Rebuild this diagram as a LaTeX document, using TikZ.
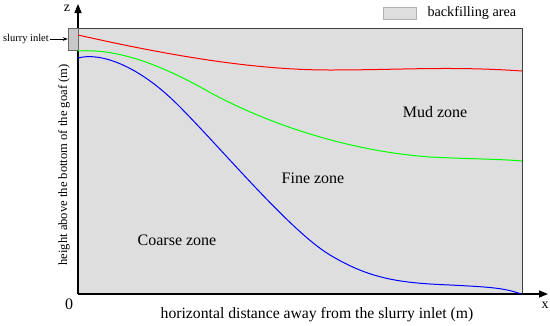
\documentclass[tikz,border=0pt]{standalone}
\usepackage{fontspec}
\setmainfont{Liberation Serif}
\usetikzlibrary{arrows.meta}
\definecolor{fillgray}{RGB}{222,222,222}
\definecolor{inletgray}{RGB}{200,200,200}
\tikzset{
	axis/.style={line width=1.4pt, -{Triangle[length=9pt, width=7pt]}},
	zone/.style={font=\fontsize{16}{18}\selectfont},
	curve/.style={line width=1pt}
}

\begin{document}
\begin{tikzpicture}[x=1pt, y=-1pt]
	\useasboundingbox (0, 0) rectangle (550, 325);
	\coordinate (O) at (78, 294);
	\coordinate (Z) at (78, 4);
	\coordinate (X) at (548, 294);
	\draw[fill=fillgray, draw=black!75, line width=0.8pt] (78, 28) rectangle (522, 294);
	\draw[axis] (O) -- (Z);
	\draw[axis] (O) -- (X);
	\node[font=\fontsize{14}{16}\selectfont, inner sep=0pt] (zname) at (67, 8) {z};
	\node[font=\fontsize{14}{16}\selectfont, inner sep=0pt] (xname) at (545, 305) {x};
	\node[zone] (zero) at (69, 304) {0};
	\node[font=\fontsize{15.7}{18}\selectfont] (xlabel) at (317, 315) {horizontal distance away from the slurry inlet (m)};
	\node[font=\fontsize{12.6}{15}\selectfont, rotate=90] (zlabel) at (64, 165) {height above the bottom of the goaf (m)};
	% inlet
	\node[draw=black!60, fill=inletgray, minimum width=10pt, minimum height=22pt, inner sep=0pt] (inlet) at (73, 39) {};
	\node[font=\fontsize{10.5}{12}\selectfont, anchor=east, inner sep=1pt] (inletlabel) at (50, 39) {slurry inlet};
	\draw[-{Stealth[length=5pt]}, line width=0.6pt] (inletlabel) -- (inlet);
	% legend
	\node[draw=black!30, fill=fillgray, minimum width=33pt, minimum height=12pt, inner sep=0pt] (legendbox) at (400, 13) {};
	\node[font=\fontsize{14.2}{16}\selectfont, anchor=west] (legendtext) at (424, 13) {backfilling area};
	% curves
	\draw[curve, red] (78, 35) .. controls (180, 58) and (260, 70) .. (330, 70)
		.. controls (400, 70) and (450, 66) .. (522, 71);
	\draw[curve, green] (78, 51) .. controls (110, 49) and (150, 58) .. (211, 93)
		.. controls (280, 130) and (360, 152) .. (430, 157)
		.. controls (470, 159) and (500, 159) .. (522, 161);
	\draw[curve, blue] (78, 58) .. controls (100, 52) and (138, 65) .. (178, 105)
		.. controls (222, 149) and (290, 231) .. (330, 255)
		.. controls (370, 279) and (400, 283) .. (450, 285)
		.. controls (490, 287) and (505, 288) .. (521, 294);
	% zones
	\node[zone] (mud) at (435, 112) {Mud zone};
	\node[zone] (fine) at (313, 178) {Fine zone};
	\node[zone] (coarse) at (177, 240) {Coarse zone};
\end{tikzpicture}
\end{document}
